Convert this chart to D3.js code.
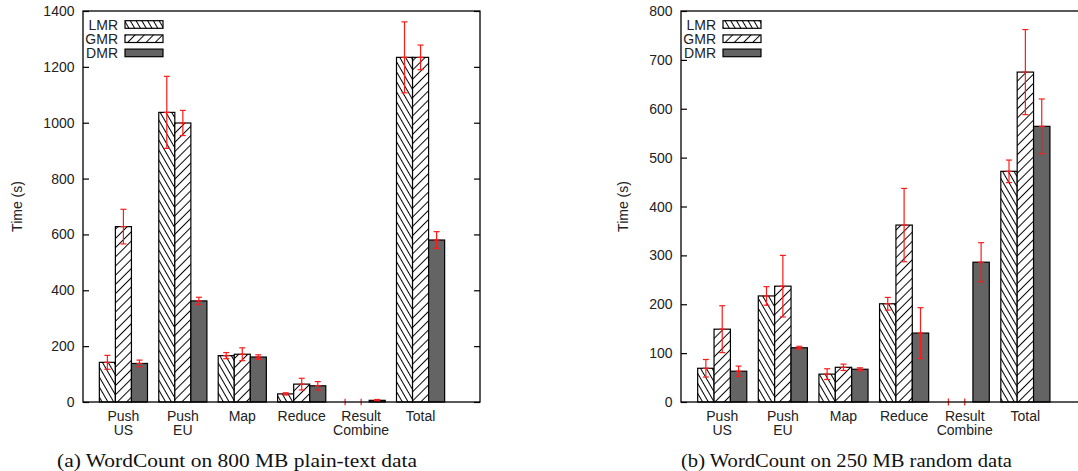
<!DOCTYPE html>
<html lang="en">
<head>
    <meta charset="UTF-8">
    <title>WordCount timing</title>
    <script src="https://d3js.org/d3.v7.min.js"></script>
    <style>
        body { margin: 0; background: #fff; }
        svg { display: block; }
        .tick-label, .cat-label, .legend-label, .axis-title {
            font-family: "Liberation Sans", Arial, sans-serif;
            font-size: 14px;
            fill: #222;
        }
        .caption {
            font-family: "Liberation Serif", "Times New Roman", serif;
            font-size: 18px;
            fill: #111;
        }
    </style>
</head>
<body>
<svg id="fig" width="1078" height="471"></svg>
<script>
    // categories on the x axis (two-line labels)
    const categories = [["Push", "US"], ["Push", "EU"], ["Map"], ["Reduce"], ["Result", "Combine"], ["Total"]];
    const seriesNames = ["LMR", "GMR", "DMR"];

    // (a) 800 MB plain-text data
    const lmrA = [142, 1037, 166, 29, 0, 1234];
    const gmrA = [628, 999, 171, 64, 0, 1234];
    const dmrA = [138, 362, 161, 58, 6, 580];
    const lmrErrA = [25, 129, 11, 4, 12, 127];
    const gmrErrA = [62, 45, 23, 21, 12, 44];
    const dmrErrA = [12, 13, 8, 15, 3, 30];
    const ticksA = [0, 200, 400, 600, 800, 1000, 1200, 1400];

    // (b) 250 MB random data
    const lmrB = [69, 217, 57, 201, 0, 472];
    const gmrB = [149, 237, 71, 362, 0, 675];
    const dmrB = [63, 111, 67, 141, 286, 564];
    const lmrErrB = [18, 19, 11, 13, 7, 23];
    const gmrErrB = [48, 63, 6.5, 75, 7, 87];
    const dmrErrB = [10.5, 3, 3, 52, 40, 56];
    const ticksB = [0, 100, 200, 300, 400, 500, 600, 700, 800];

    const captionA = "(a) WordCount on 800 MB plain-text data";
    const captionB = "(b) WordCount on 250 MB random data";

    const svg = d3.select("#fig");
    const defs = svg.append("defs");

    // hatch patterns: LMR steep "\" lines, GMR "/" lines
    function hatch(id, spacing, angle) {
        const p = defs.append("pattern")
            .attr("id", id)
            .attr("patternUnits", "userSpaceOnUse")
            .attr("width", spacing)
            .attr("height", 20)
            .attr("patternTransform", "rotate(" + angle + ")");
        p.append("rect").attr("width", spacing).attr("height", 20).attr("fill", "#fff");
        p.append("line")
            .attr("x1", spacing / 2).attr("y1", 0)
            .attr("x2", spacing / 2).attr("y2", 20)
            .attr("stroke", "#000").attr("stroke-width", 1);
    }
    hatch("pat-lmr", 5, -30);
    hatch("pat-gmr", 6.5, 45);

    const fills = ["url(#pat-lmr)", "url(#pat-gmr)", "#646464"];
    const barW = 0.27;

    function drawChart(opt) {
        const top = 11, bottom = 402;
        const x = d3.scaleLinear().domain([-0.68, 6.0]).range([opt.left, opt.right]);
        const y = d3.scaleLinear().domain([0, opt.ymax]).range([bottom, top]);
        const g = svg.append("g");

        // bars
        opt.series.forEach((vals, s) => {
            g.append("g").selectAll("rect")
                .data(vals)
                .enter().append("rect")
                .attr("x", (d, i) => x(i + (s - 1) * barW - barW / 2))
                .attr("width", x(barW) - x(0))
                .attr("y", d => y(d))
                .attr("height", d => y(0) - y(d))
                .attr("fill", fills[s])
                .attr("stroke", "#000")
                .attr("stroke-width", 1.2);
        });

        // error bars (no caps on empty bars, as in the original)
        opt.series.forEach((vals, s) => {
            const errs = opt.errors[s];
            const eg = g.append("g").attr("stroke", "#ff1a1a").attr("stroke-width", 1.2);
            vals.forEach((v, i) => {
                const cx = x(i + (s - 1) * barW);
                const y1 = y(v + errs[i]), y2 = y(v - errs[i]);
                eg.append("line").attr("x1", cx).attr("x2", cx).attr("y1", y1).attr("y2", y2);
                if (v === 0) return;
                [y1, y2, y(v)].forEach(yy => {
                    eg.append("line").attr("x1", cx - 3).attr("x2", cx + 3).attr("y1", yy).attr("y2", yy);
                });
            });
        });

        // frame
        g.append("rect")
            .attr("x", opt.left).attr("y", top)
            .attr("width", opt.right - opt.left).attr("height", bottom - top)
            .attr("fill", "none").attr("stroke", "#000").attr("stroke-width", 1.3);

        // y ticks (inward, mirrored)
        const yAxisL = d3.axisLeft(y).tickValues(opt.ticks).tickSize(-6).tickFormat("");
        const yAxisR = d3.axisRight(y).tickValues(opt.ticks).tickSize(-6).tickFormat("");
        g.append("g").attr("transform", "translate(" + opt.left + ",0)").call(yAxisL)
            .call(a => a.select(".domain").remove())
            .selectAll("line").attr("stroke", "#000").attr("stroke-width", 1.2);
        g.append("g").attr("transform", "translate(" + opt.right + ",0)").call(yAxisR)
            .call(a => a.select(".domain").remove())
            .selectAll("line").attr("stroke", "#000").attr("stroke-width", 1.2);

        g.append("g").selectAll("text")
            .data(opt.ticks)
            .enter().append("text")
            .attr("class", "tick-label")
            .attr("text-anchor", "end")
            .attr("x", opt.left - 8.5)
            .attr("y", d => y(d))
            .attr("dy", "0.36em")
            .text(d => d);

        // category labels
        categories.forEach((lines, i) => {
            const t = g.append("text")
                .attr("class", "cat-label")
                .attr("text-anchor", "middle")
                .attr("x", x(i))
                .attr("y", 421);
            lines.forEach((ln, k) => {
                t.append("tspan").attr("x", x(i)).attr("dy", k === 0 ? 0 : 14).text(ln);
            });
        });

        // y axis title
        g.append("text")
            .attr("class", "axis-title")
            .attr("text-anchor", "middle")
            .attr("transform", "translate(" + opt.titleX + "," + ((top + bottom) / 2) + ") rotate(-90)")
            .attr("dy", "0.35em")
            .text("Time (s)");

        // legend
        seriesNames.forEach((name, s) => {
            const cy = 24.5 + s * 14.2;
            g.append("text")
                .attr("class", "legend-label")
                .attr("text-anchor", "end")
                .attr("x", opt.left + 35)
                .attr("y", cy)
                .attr("dy", "0.36em")
                .text(name);
            g.append("rect")
                .attr("x", opt.left + 42).attr("y", cy - 3.8)
                .attr("width", 38).attr("height", 7.6)
                .attr("fill", fills[s])
                .attr("stroke", "#000").attr("stroke-width", 1.2);
        });

        // caption
        svg.append("text")
            .attr("class", "caption")
            .attr("x", opt.capX).attr("y", 467)
            .attr("textLength", opt.capW)
            .attr("lengthAdjust", "spacingAndGlyphs")
            .text(opt.caption);
    }

    drawChart({
        left: 83, right: 480, ymax: 1400, ticks: ticksA,
        series: [lmrA, gmrA, dmrA], errors: [lmrErrA, gmrErrA, dmrErrA],
        titleX: 17.5, caption: captionA, capX: 57, capW: 360
    });
    drawChart({
        left: 681, right: 1086, ymax: 800, ticks: ticksB,
        series: [lmrB, gmrB, dmrB], errors: [lmrErrB, gmrErrB, dmrErrB],
        titleX: 623, caption: captionB, capX: 681, capW: 331
    });
</script>
</body>
</html>
